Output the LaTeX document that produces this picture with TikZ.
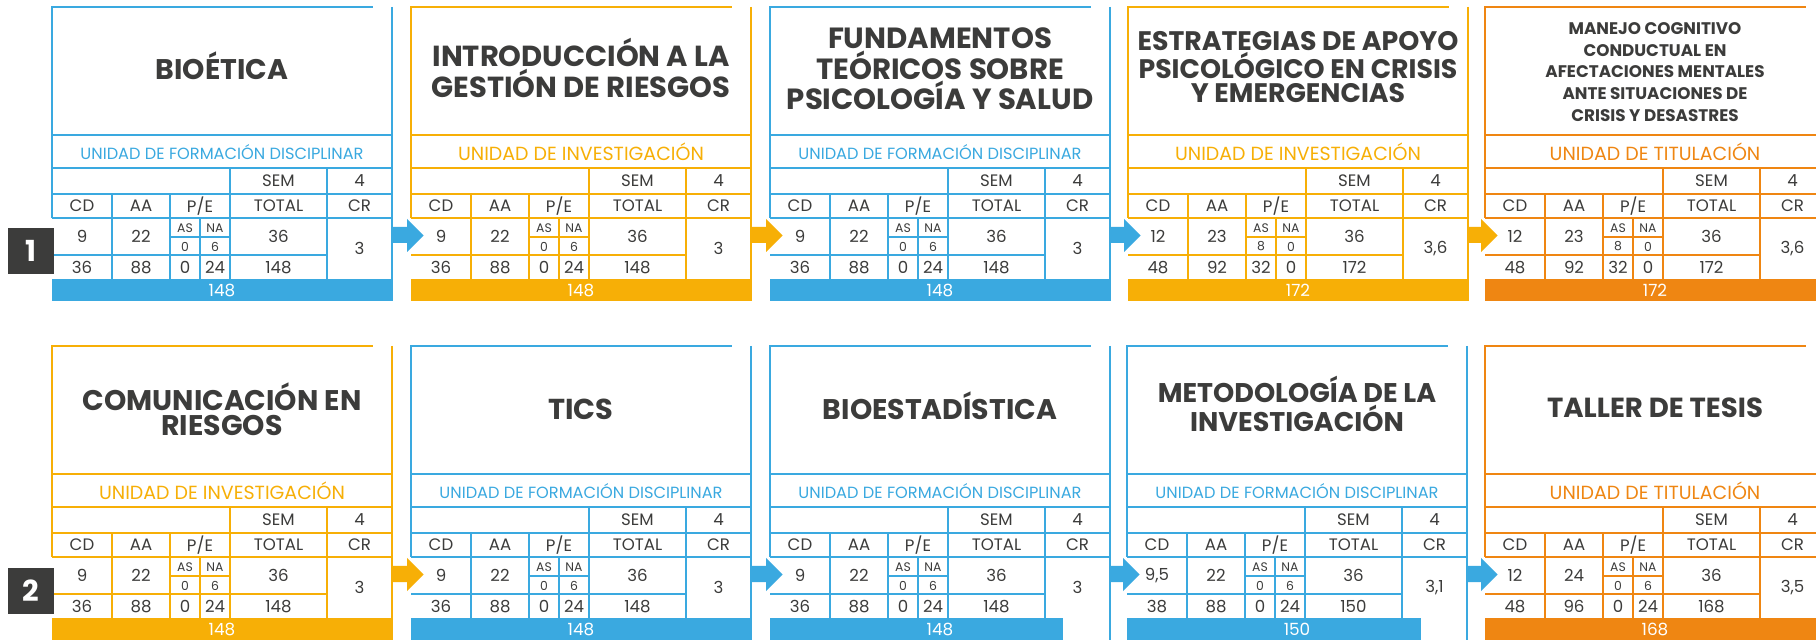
\documentclass[tikz,border=0pt]{standalone}
\usepackage{fontspec}
\setmainfont{Poppins}
\usetikzlibrary{calc}
\definecolor{cblue}{HTML}{3AA9E0}
\definecolor{cyel}{HTML}{F7AF06}
\definecolor{corg}{HTML}{EF8612}
\definecolor{ctxt}{HTML}{3C3C3B}
\tikzset{
  gridline/.style={line width=1.3pt, draw=cc},
  edgeline/.style={line width=0.85pt, draw=cc},
  cell/.style={inner sep=0pt, text=ctxt, font=\fontsize{8.3}{9}\selectfont},
  subcell/.style={inner sep=0pt, text=ctxt, font=\fontsize{6.2}{7}\selectfont},
  ttl/.style={inner sep=0pt, align=center, text=ctxt},
  unit/.style={inner sep=0pt, text=cc},
  bartxt/.style={inner sep=0pt, text=white, font=\fontsize{8.4}{9}\selectfont},
  lab/.style={fill=ctxt, text=white, minimum width=23pt, minimum height=23pt, inner sep=0pt, font=\bfseries\fontsize{14.5}{14}\selectfont}
}
\newcommand\tf[2]{\bfseries\fontsize{#1}{#2}\selectfont}
\newcommand\uF{\fontsize{8.1}{8}\selectfont}
\newcommand\uI{\fontsize{9.5}{10}\selectfont}
% #1 name, #2 colour, #3 title, #4 title font, #5 unit text, #6 unit font, #7 title y
\newcommand\cardframe[7]{%
  \colorlet{cc}{#2}%
  \coordinate (#1) at (0,0);
  \draw[edgeline] (0,211) -- (0,0) -- (321,0);
  \draw[edgeline] (340,0) -- (340,294);
  \draw[gridline] (0,128) -- (340,128) (0,161) -- (340,161) (0,187) -- (340,187)
    (0,211) -- (340,211) (0,248) -- (275,248) (118,230) -- (178,230);
  \draw[gridline] (178,161) -- (178,272) (275,161) -- (275,272) (60,187) -- (60,272)
    (118,187) -- (118,272) (148,211) -- (148,272);
  \node[ttl, font=#4] (#1-t) at (170,#7) {#3};
  \node[unit, font=#6] (#1-u) at (170,145) {#5};
  \node[cell] (#1-sem) at (226.5,174) {SEM};
  \node[cell] (#1-sv) at (307.5,174) {4};
  \node[cell] (#1-hcd) at (30,199) {CD};
  \node[cell] (#1-haa) at (89,199) {AA};
  \node[cell] (#1-hpe) at (148,199) {P/E};
  \node[cell] (#1-htot) at (226.5,199) {TOTAL};
  \node[cell] (#1-hcr) at (307.5,199) {CR};
  \node[subcell] (#1-as) at (133,221) {AS};
  \node[subcell] (#1-na) at (163,221) {NA};
}
% #1 name, #2 cd, #3 aa, #4 as, #5 na, #6 cr
\newcommand\cardnums[6]{%
  \node[cell] (#1-cd1) at (30,229.5) {#2};
  \node[cell] (#1-aa1) at (89,229.5) {#3};
  \node[subcell] (#1-asv) at (133,239.5) {#4};
  \node[subcell] (#1-nav) at (163,239.5) {#5};
  \node[cell] (#1-tot1) at (226.5,229.5) {36};
  \node[cell] (#1-cr) at (307.5,241.5) {#6};
}
% #1 name, #2 cd, #3 aa, #4 p1, #5 p2, #6 total, #7 bar length
\newcommand\cardtot[7]{%
  \node[cell] (#1-cd2) at (30,260.5) {#2};
  \node[cell] (#1-aa2) at (89,260.5) {#3};
  \node[cell] (#1-p1) at (133,260.5) {#4};
  \node[cell] (#1-p2) at (163,260.5) {#5};
  \node[cell] (#1-tot2) at (226.5,260.5) {#6};
  \fill[cc] (0,272) rectangle (#7,294);
  \node[bartxt] (#1-bar) at (170,283.5) {#6};
}
\newcommand\arr[3]{%
  \fill[#3] ($(#1)+(340,220)$) -- ($(#2)+(-4,220)$) -- ($(#2)+(-4,212)$)
    -- ($(#2)+(12.5,228.5)$) -- ($(#2)+(-4,245)$) -- ($(#2)+(-4,236)$)
    -- ($(#1)+(340,236)$) -- cycle;
}
\begin{document}
\begin{tikzpicture}[x=0.5pt, y=-0.5pt]
\useasboundingbox (0,0) rectangle (1816,641);
\clip (0,0) rectangle (1816,641);
\fill[white] (0,0) rectangle (1816,641);
% ---------- row 1 ----------
\begin{scope}[shift={(52,7)}]
  \cardframe{a1}{cblue}{BIOÉTICA}{\tf{14.2}{12.6}}{UNIDAD DE FORMACIÓN DISCIPLINAR}{\uF}{59}
  \cardnums{a1}{9}{22}{0}{6}{3}
  \cardtot{a1}{36}{88}{0}{24}{148}{340.5}
\end{scope}
\begin{scope}[shift={(411,7)}]
  \cardframe{a2}{cyel}{INTRODUCCIÓN A LA\\GESTIÓN DE RIESGOS}{\tf{14.5}{12.6}}{UNIDAD DE INVESTIGACIÓN}{\uI}{61}
  \cardnums{a2}{9}{22}{0}{6}{3}
  \cardtot{a2}{36}{88}{0}{24}{148}{340.5}
\end{scope}
\begin{scope}[shift={(770,7)}]
  \cardframe{a3}{cblue}{FUNDAMENTOS\\TEÓRICOS SOBRE\\PSICOLOGÍA Y SALUD}{\tf{14.6}{12.4}}{UNIDAD DE FORMACIÓN DISCIPLINAR}{\uF}{62}
  \cardnums{a3}{9}{22}{0}{6}{3}
  \cardtot{a3}{36}{88}{0}{24}{148}{340.5}
\end{scope}
\begin{scope}[shift={(1128,7)}]
  \cardframe{a4}{cyel}{ESTRATEGIAS DE APOYO\\PSICOLÓGICO EN CRISIS\\Y EMERGENCIAS}{\tf{13.4}{12.2}}{UNIDAD DE INVESTIGACIÓN}{\uI}{60}
  \cardnums{a4}{12}{23}{8}{0}{3,6}
  \cardtot{a4}{48}{92}{32}{0}{172}{340.5}
\end{scope}
\begin{scope}[shift={(1485,7)}]
  \cardframe{a5}{corg}{MANEJO COGNITIVO\\CONDUCTUAL EN\\AFECTACIONES MENTALES\\ANTE SITUACIONES DE\\CRISIS Y DESASTRES}{\tf{8.4}{10.8}}{UNIDAD DE TITULACIÓN}{\uI}{65}
  \cardnums{a5}{12}{23}{8}{0}{3,6}
  \cardtot{a5}{48}{92}{32}{0}{172}{340.5}
\end{scope}
% ---------- row 2 ----------
\begin{scope}[shift={(52,346)}]
  \cardframe{b1}{cyel}{COMUNICACIÓN EN\\RIESGOS}{\tf{14.2}{12.6}}{UNIDAD DE INVESTIGACIÓN}{\uI}{63}
  \cardnums{b1}{9}{22}{0}{6}{3}
  \cardtot{b1}{36}{88}{0}{24}{148}{340.5}
\end{scope}
\begin{scope}[shift={(411,346)}]
  \cardframe{b2}{cblue}{TICS}{\tf{14.4}{12.6}}{UNIDAD DE FORMACIÓN DISCIPLINAR}{\uF}{63}
  \cardnums{b2}{9}{22}{0}{6}{3}
  \cardtot{b2}{36}{88}{0}{24}{148}{340.5}
\end{scope}
\begin{scope}[shift={(770,346)}]
  \cardframe{b3}{cblue}{BIOESTADÍSTICA}{\tf{14.2}{12.6}}{UNIDAD DE FORMACIÓN DISCIPLINAR}{\uF}{60}
  \cardnums{b3}{9}{22}{0}{6}{3}
  \cardtot{b3}{36}{88}{0}{24}{148}{293}
\end{scope}
\begin{scope}[shift={(1127,346)}]
  \cardframe{b4}{cblue}{METODOLOGÍA DE LA\\INVESTIGACIÓN}{\tf{13.5}{12.6}}{UNIDAD DE FORMACIÓN DISCIPLINAR}{\uF}{58}
  \cardnums{b4}{9,5}{22}{0}{6}{3,1}
  \cardtot{b4}{38}{88}{0}{24}{150}{294}
\end{scope}
\begin{scope}[shift={(1485,346)}]
  \cardframe{b5}{corg}{TALLER DE TESIS}{\tf{13.8}{12.6}}{UNIDAD DE TITULACIÓN}{\uI}{62}
  \cardnums{b5}{12}{24}{0}{6}{3,5}
  \cardtot{b5}{48}{96}{0}{24}{168}{340.5}
\end{scope}
% ---------- arrows ----------
\arr{a1}{a2}{cblue}
\arr{a2}{a3}{cyel}
\arr{a3}{a4}{cblue}
\arr{a4}{a5}{cyel}
\arr{b1}{b2}{cyel}
\arr{b2}{b3}{cblue}
\arr{b3}{b4}{cblue}
\arr{b4}{b5}{cblue}
% ---------- semester labels ----------
\node[lab] (n1) at (31,251) {1};
\node[lab] (n2) at (31,591) {2};
\end{tikzpicture}
\end{document}
